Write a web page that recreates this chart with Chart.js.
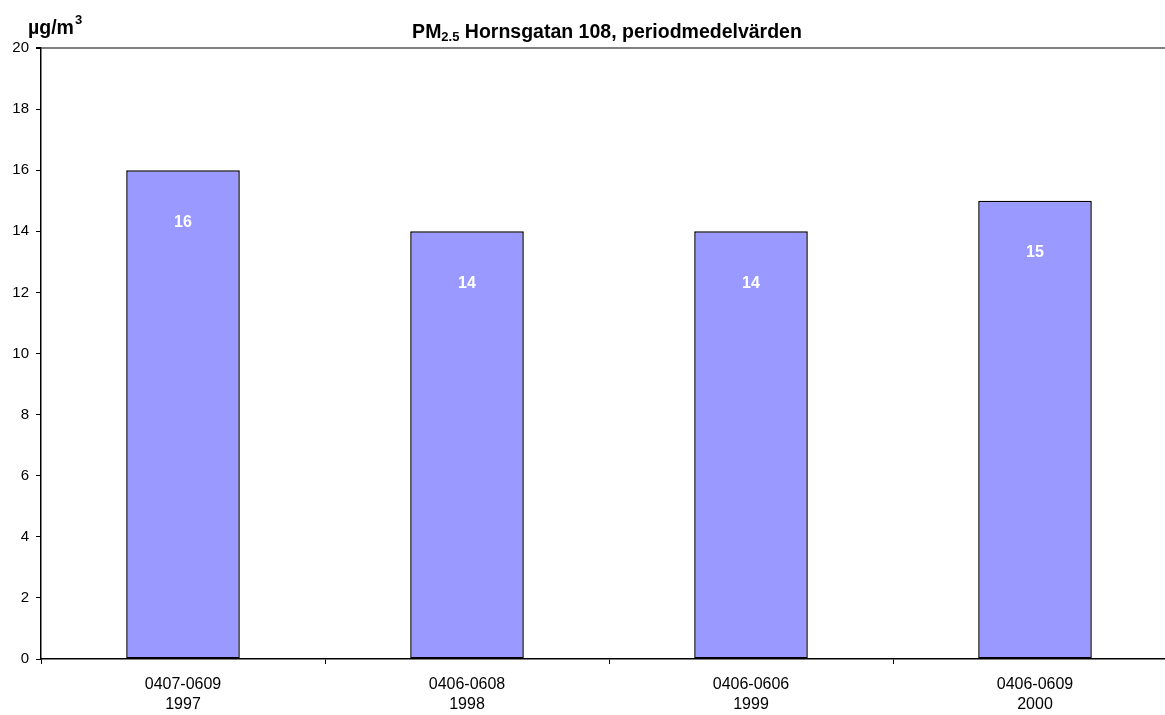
<!DOCTYPE html>
<html>
<head>
<meta charset="utf-8">
<script src="https://cdn.jsdelivr.net/npm/chart.js@4"></script>
<style>
  html, body { margin: 0; padding: 0; background: #fff; overflow: hidden; }
  canvas { display: block; }
</style>
</head>
<body>
<!-- the plot runs a little past the right edge of the window, as in the original -->
<canvas id="chart" width="1177" height="715"></canvas>
<script>
// period labels, two lines each
const periods = [['0407-0609', '1997'], ['0406-0608', '1998'], ['0406-0606', '1999'], ['0406-0609', '2000']];
const pm25 = [16, 14, 14, 15];
const yTicks = [0, 2, 4, 6, 8, 10, 12, 14, 16, 18, 20];

const FONT = '"Liberation Sans", Arial, sans-serif';

// title with subscript and y-axis unit with superscript
const textPlugin = {
  id: 'texts',
  afterDraw(chart) {
    const ctx = chart.ctx;
    ctx.save();
    ctx.fillStyle = '#000';
    ctx.textBaseline = 'alphabetic';
    ctx.textAlign = 'left';

    const big = 'bold 19.5px ' + FONT;
    const small = 'bold 13px ' + FONT;
    ctx.font = big;
    const w1 = ctx.measureText('PM').width;
    const w3 = ctx.measureText(' Hornsgatan 108, periodmedelvärden').width;
    ctx.font = small;
    const w2 = ctx.measureText('2.5').width;
    let x = 607 - (w1 + w2 + w3) / 2;
    const base = 38;
    ctx.font = big;
    ctx.fillText('PM', x, base);
    x += w1;
    ctx.font = small;
    ctx.fillText('2.5', x, base + 3);
    x += w2;
    ctx.font = big;
    ctx.fillText(' Hornsgatan 108, periodmedelvärden', x, base);

    ctx.font = big;
    ctx.fillText('µg/m', 28, 34);
    const wu = ctx.measureText('µg/m').width;
    ctx.font = small;
    ctx.fillText('3', 28 + wu + 1, 24);
    ctx.restore();
  }
};

// value labels inside the bars
const valueLabels = {
  id: 'valueLabels',
  afterDatasetsDraw(chart) {
    const ctx = chart.ctx;
    const meta = chart.getDatasetMeta(0);
    ctx.save();
    ctx.fillStyle = '#fff';
    ctx.font = 'bold 16px ' + FONT;
    ctx.textAlign = 'center';
    ctx.textBaseline = 'middle';
    meta.data.forEach((bar, i) => {
      ctx.fillText(String(pm25[i]), bar.x, bar.y + 52);
    });
    ctx.restore();
  }
};

new Chart(document.getElementById('chart'), {
  type: 'bar',
  data: {
    labels: periods,
    datasets: [{
      data: pm25,
      backgroundColor: '#9999ff',
      borderColor: '#000',
      borderWidth: 1.5,
      borderSkipped: false,
      categoryPercentage: 1,
      barPercentage: 0.40
    }]
  },
  options: {
    responsive: false,
    animation: false,
    devicePixelRatio: 1,
    layout: { padding: { top: 48, right: 0, left: 0, bottom: 0 } },
    plugins: {
      legend: { display: false },
      tooltip: { enabled: false },
      title: { display: false }
    },
    scales: {
      x: {
        grid: {
          offset: true,
          drawOnChartArea: false,
          tickLength: 5,
          tickColor: '#000'
        },
        border: { color: '#000', width: 1.5 },
        ticks: {
          color: '#000',
          font: { family: FONT, size: 16, lineHeight: 1.25 },
          padding: 11,
          maxRotation: 0
        },
        afterFit(scale) { scale.height = 56; }
      },
      y: {
        min: 0,
        max: 20,
        afterBuildTicks(scale) { scale.ticks = yTicks.map(v => ({ value: v })); },
        grid: {
          color: c => (c.tick && c.tick.value === 20 ? '#808080' : 'rgba(0,0,0,0)'),
          lineWidth: c => (c.tick && c.tick.value === 20 ? 2 : 1),
          tickLength: 5,
          tickColor: '#000'
        },
        border: { color: '#000', width: 1.5 },
        ticks: {
          color: '#000',
          font: { family: FONT, size: 15 },
          padding: 7
        },
        afterFit(scale) { scale.width = 41; }
      }
    }
  },
  plugins: [textPlugin, valueLabels]
});
</script>
</body>
</html>
